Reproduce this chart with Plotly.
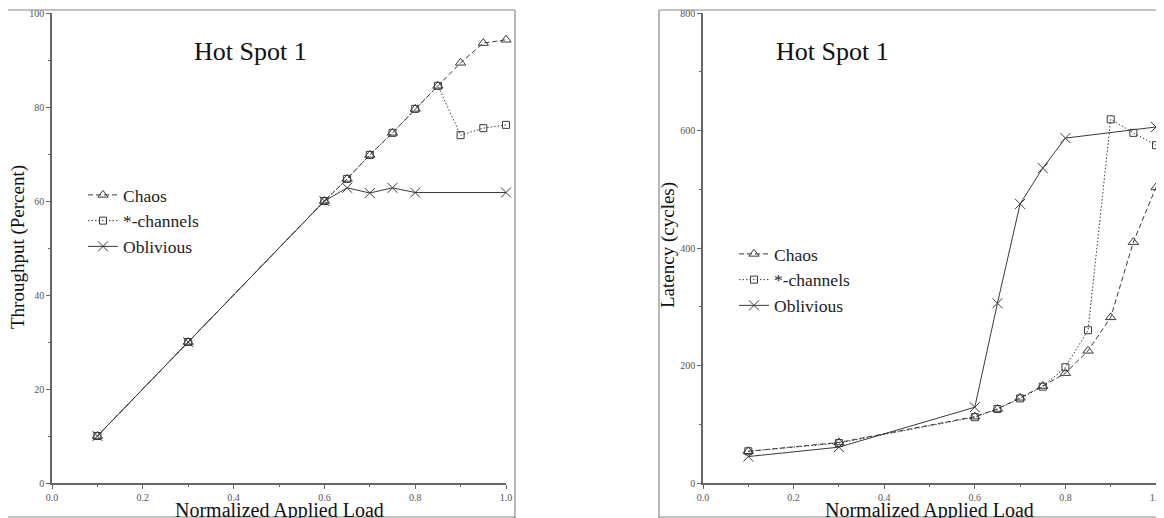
import plotly.graph_objects as go

# ---- data ----
load = [0.1, 0.3, 0.6, 0.65, 0.7, 0.75, 0.8, 0.85, 0.9, 0.95, 1.0]
load_obl_tp = [0.1, 0.3, 0.6, 0.65, 0.7, 0.75, 0.8, 1.0]

tp_chaos = [10, 30, 60, 64.7, 69.8, 74.5, 79.6, 84.5, 89.4, 93.6, 94.3]
tp_star = [10, 30, 60, 64.7, 69.8, 74.5, 79.6, 84.5, 74.0, 75.5, 76.2]
tp_obl = [10, 30, 60, 62.8, 61.7, 62.8, 61.8, 61.8]

load_obl_lat = [0.1, 0.3, 0.6, 0.65, 0.7, 0.75, 0.8, 1.0]
lat_chaos = [54, 69, 113, 126, 145, 165, 187, 225, 282, 410, 503]
lat_star = [54, 68, 112, 126, 144, 164, 197, 260, 619, 596, 575]
lat_obl = [45, 61, 129, 306, 475, 536, 587, 606]

series_names = ["Chaos", "*-channels", "Oblivious"]
panel_title = "Hot Spot 1"
x_title = "Normalized Applied Load"
y_titles = ["Throughput (Percent)", "Latency (cycles)"]

# page body has an 8px margin, so the figure starts at (8, 8) in the screenshot
OFF = 8
W, H = 1164 - OFF, 518 - OFF
def px(x): return (x - OFF) / W
def py(y): return 1 - (y - OFF) / H

SERIF = "Liberation Serif, Times New Roman, serif"
LC = "#3a3a3a"

fig = go.Figure()

styles = [
    dict(dash="5px,3px", symbol="triangle-up-open", size=9),
    dict(dash="1.5px,2px", symbol="square-open", size=7),
    dict(dash="solid", symbol="x-thin-open", size=10),
]

left_sets = [(load, tp_chaos), (load, tp_star), (load_obl_tp, tp_obl)]
right_sets = [(load, lat_chaos), (load, lat_star), (load_obl_lat, lat_obl)]

for sets, xa, ya, lg in [(left_sets, "x", "y", "legend"), (right_sets, "x2", "y2", "legend2")]:
    for i, (xs, ys) in enumerate(sets):
        st = styles[i]
        fig.add_trace(go.Scatter(
            x=xs, y=ys, name=series_names[i], mode="lines+markers",
            line=dict(color=LC, width=1, dash=st["dash"]),
            marker=dict(symbol=st["symbol"], size=st["size"], color=LC,
                        line=dict(color=LC, width=1)),
            cliponaxis=False,
            xaxis=xa, yaxis=ya, legend=lg))

axis_common = dict(
    showgrid=False, zeroline=False, showline=True, linecolor="#666",
    linewidth=1.5, ticks="outside", ticklen=4, tickcolor="#666",
    automargin=False, ticklabeloverflow="allow",
    tickfont=dict(family=SERIF, size=10, color="#555"),
)
ydom = [py(483), py(13)]

fig.update_layout(
    width=W, height=H, margin=dict(l=0, r=0, t=0, b=0, autoexpand=False),
    paper_bgcolor="white", plot_bgcolor="white",
    xaxis=dict(domain=[px(52), px(506)], range=[0, 1.0], dtick=0.2,
               tickformat=".1f", anchor="y",
               minor=dict(ticks="outside", ticklen=2, dtick=0.1, tickcolor="#666"),
               **axis_common),
    yaxis=dict(domain=ydom, range=[0, 100], dtick=20, anchor="x",
               minor=dict(ticks="outside", ticklen=2, dtick=10, tickcolor="#666"),
               **axis_common),
    xaxis2=dict(domain=[px(703), px(1156)], range=[0, 1.0], dtick=0.2,
                tickformat=".1f", anchor="y2",
                minor=dict(ticks="outside", ticklen=2, dtick=0.1, tickcolor="#666"),
                **axis_common),
    yaxis2=dict(domain=ydom, range=[0, 800], dtick=200, anchor="x2",
                minor=dict(ticks="outside", ticklen=2, dtick=100, tickcolor="#666"),
                **axis_common),
    legend=dict(x=px(83), y=py(177), xanchor="left", yanchor="top",
                font=dict(family=SERIF, size=17.5, color="#222"),
                bgcolor="rgba(0,0,0,0)", itemwidth=30, tracegroupgap=0),
    legend2=dict(x=px(734), y=py(236), xanchor="left", yanchor="top",
                 font=dict(family=SERIF, size=17.5, color="#222"),
                 bgcolor="rgba(0,0,0,0)", itemwidth=30, tracegroupgap=0),
    showlegend=True,
)

for cx in [px(250), px(832)]:
    fig.add_annotation(xref="paper", yref="paper", x=cx, y=py(51),
                       text=panel_title, showarrow=False, xanchor="center",
                       yanchor="middle",
                       font=dict(family=SERIF, size=26, color="#111"))

for cx in [px(279), px(929.5)]:
    fig.add_annotation(xref="paper", yref="paper", x=cx, y=py(510),
                       text=x_title, showarrow=False, xanchor="center",
                       yanchor="middle",
                       font=dict(family=SERIF, size=20, color="#111"))

for (cx, cy, t) in [(px(18), py(247), y_titles[0]), (px(668), py(245), y_titles[1])]:
    fig.add_annotation(xref="paper", yref="paper", x=cx, y=cy, text=t,
                       showarrow=False, textangle=-90, xanchor="center",
                       yanchor="middle",
                       font=dict(family=SERIF, size=19, color="#111"))

# panel frames
frame = dict(color="#888", width=1.2)
for (x0, y0, x1, y1) in [
    (8, 10, 515, 10), (515, 10, 515, 518), (8, 517, 515, 517),
    (659, 10, 1164, 10), (659, 10, 659, 518), (659, 517, 1164, 517),
]:
    fig.add_shape(type="line", xref="paper", yref="paper",
                  x0=px(x0), y0=py(y0), x1=px(x1), y1=py(y1), line=frame)

fig.write_html("out.html")
